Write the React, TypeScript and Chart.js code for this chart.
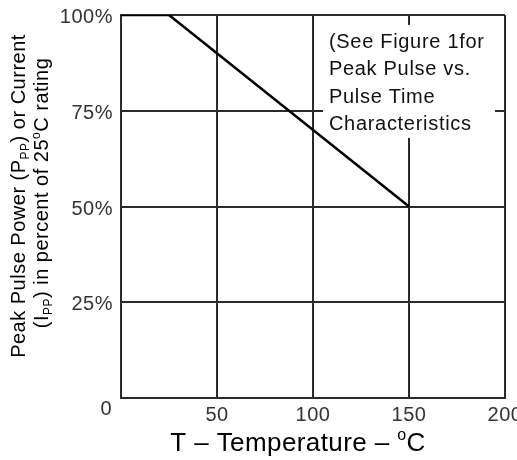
import React, { useEffect, useRef } from 'react';
import { Chart, registerables } from 'chart.js';

Chart.register(...registerables);

// ---- data ----
const temperatures = [0, 25, 150];
const ratingPercent = [100, 100, 50];
const xTickValues = [50, 100, 150, 200];
const yTickValues = [25, 50, 75, 100];
const noteLines = ['(See Figure 1for', 'Peak Pulse vs.', 'Pulse Time', 'Characteristics'];

const FONT = '"Liberation Sans", Arial, Helvetica, sans-serif';
const GRID = '#2a2a2a';

type Seg = { t: string; s?: 'sub' | 'sup' };

function segFont(size: number, s?: string) {
  return `${s ? Math.round(size * 0.62) : size}px ${FONT}`;
}
function richWidth(ctx: CanvasRenderingContext2D, segs: Seg[], size: number) {
  let w = 0;
  for (const sg of segs) {
    ctx.font = segFont(size, sg.s);
    w += ctx.measureText(sg.t).width;
  }
  return w;
}
function drawRich(ctx: CanvasRenderingContext2D, segs: Seg[], cx: number, y: number, size: number) {
  const w = richWidth(ctx, segs, size);
  let x = cx - w / 2;
  ctx.textAlign = 'left';
  ctx.textBaseline = 'alphabetic';
  for (const sg of segs) {
    ctx.font = segFont(size, sg.s);
    const dy = sg.s === 'sub' ? size * 0.18 : sg.s === 'sup' ? -size * 0.42 : 0;
    ctx.fillText(sg.t, x, y + dy);
    x += ctx.measureText(sg.t).width;
  }
}

const yTitle1: Seg[] = [{ t: 'Peak Pulse Power (P' }, { t: 'PP', s: 'sub' }, { t: ') or Current' }];
const yTitle2: Seg[] = [
  { t: '(I' },
  { t: 'PP', s: 'sub' },
  { t: ') in percent of 25' },
  { t: 'o', s: 'sup' },
  { t: 'C rating' },
];
const xTitle: Seg[] = [{ t: 'T \u2013 Temperature \u2013 ' }, { t: 'o', s: 'sup' }, { t: 'C' }];

const textPlugin = {
  id: 'textPlugin',
  beforeDatasetsDraw(chart: any) {
    const { ctx, scales } = chart;
    const x = scales.x;
    const y = scales.y;
    // white backing for the note
    const x0 = x.getPixelForValue(105.2);
    const x1 = x.getPixelForValue(194.8);
    const y0 = y.getPixelForValue(97.4);
    const y1 = y.getPixelForValue(67.9);
    ctx.save();
    ctx.fillStyle = '#ffffff';
    ctx.fillRect(x0, y0, x1 - x0, y1 - y0);
    ctx.restore();
  },
  afterDraw(chart: any) {
    const { ctx, scales } = chart;
    const x = scales.x;
    const y = scales.y;
    ctx.save();
    (ctx as any).letterSpacing = '0.5px';
    // tick labels
    ctx.fillStyle = '#333333';
    ctx.font = `20px ${FONT}`;
    ctx.textBaseline = 'alphabetic';
    ctx.textAlign = 'center';
    for (const v of xTickValues) {
      ctx.fillText(String(v), x.getPixelForValue(v), y.bottom + 23);
    }
    ctx.textAlign = 'right';
    for (const v of yTickValues) {
      ctx.fillText(`${v}%`, x.left - 8, y.getPixelForValue(v) + 8);
    }
    ctx.fillText('0', x.left - 9, y.bottom + 17);

    // note text
    (ctx as any).letterSpacing = '0.7px';
    ctx.fillStyle = '#111111';
    ctx.textAlign = 'left';
    ctx.font = `20px ${FONT}`;
    const nx = x.getPixelForValue(108.3);
    noteLines.forEach((l, i) => {
      ctx.fillText(l, nx, 48 + i * 27.4);
    });

    // x title
    (ctx as any).letterSpacing = '0.4px';
    ctx.fillStyle = '#000000';
    drawRich(ctx, xTitle, 298, 451, 26);

    // y title (rotated)
    (ctx as any).letterSpacing = '0.5px';
    ctx.save();
    ctx.translate(25, 196);
    ctx.rotate(-Math.PI / 2);
    drawRich(ctx, yTitle1, 0, 0, 20);
    ctx.restore();
    ctx.save();
    ctx.translate(48, 193);
    ctx.rotate(-Math.PI / 2);
    drawRich(ctx, yTitle2, 0, 0, 20);
    ctx.restore();

    ctx.restore();
  },
};

export default function App() {
  const ref = useRef<HTMLCanvasElement | null>(null);
  useEffect(() => {
    if (!ref.current) return;
    const chart = new Chart(ref.current, {
      type: 'line',
      data: {
        datasets: [
          {
            data: temperatures.map((t, i) => ({ x: t, y: ratingPercent[i] })),
            borderColor: '#000000',
            borderWidth: 2.5,
            pointRadius: 0,
            tension: 0,
          },
        ],
      },
      options: {
        responsive: false,
        maintainAspectRatio: false,
        animation: false,
        layout: { padding: { left: 121, top: 15, right: 12, bottom: 62 } },
        plugins: { legend: { display: false }, tooltip: { enabled: false } },
        scales: {
          x: {
            type: 'linear',
            min: 0,
            max: 200,
            ticks: { display: false, stepSize: 50 },
            grid: { color: GRID, lineWidth: 2, drawTicks: false },
            border: { display: true, color: GRID, width: 2 },
          },
          y: {
            type: 'linear',
            min: 0,
            max: 100,
            ticks: { display: false, stepSize: 25 },
            grid: { color: GRID, lineWidth: 2, drawTicks: false },
            border: { display: true, color: GRID, width: 2 },
          },
        },
      },
      plugins: [textPlugin],
    });
    return () => chart.destroy();
  }, []);
  return (
    <div style={{ position: 'fixed', left: 0, top: 0, width: 517, height: 460, background: '#fff' }}>
      <canvas ref={ref} width={517} height={460} />
    </div>
  );
}
